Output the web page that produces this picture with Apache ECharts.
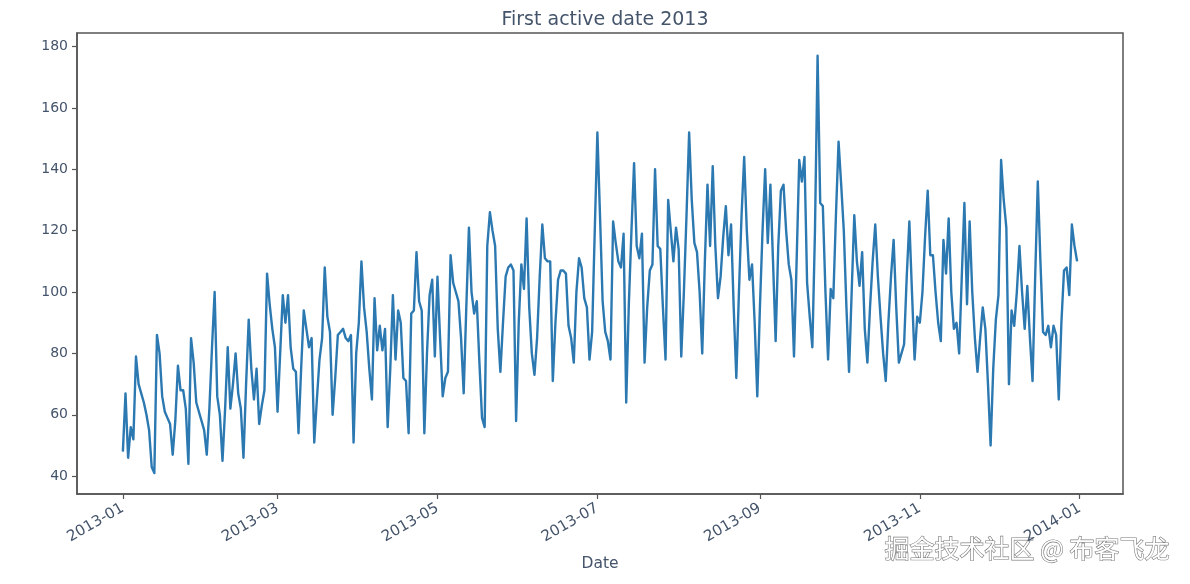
<!DOCTYPE html>
<html>
<head>
<meta charset="utf-8">
<script src="https://cdn.jsdelivr.net/npm/echarts@6/dist/echarts.min.js"></script>
<style>
html,body{margin:0;padding:0;background:#fff;}
#chart{width:1190px;height:584px;}
</style>
</head>
<body>
<div id="chart"></div>
<script>
// ---- data (daily values, 2013) ----
const startDate = '2013-01-01';
const jan = [48,67,46,56,52,79,70,67,64,60,55,43,41,86,80,66,61,59,57,47,58,76,68,68,62,44,85,77,64,61,58];
const feb = [55,47,62,82,100,66,60,45,62,82,62,70,80,67,62,46,70,91,75,65,75,57,63,68,106,96,88,82];
const mar = [61,80,99,90,99,82,75,74,54,75,94,88,82,85,51,65,78,85,108,92,87,60,72,86,87,88,85,84,86,51,80];
const apr = [90,110,95,87,75,65,98,81,89,81,88,56,75,99,78,94,90,72,71,54,93,94,113,97,94,54,80,99,104,79];
const may = [105,85,66,72,74,112,103,100,97,85,67,95,121,100,93,97,77,59,56,115,126,120,115,88,74,90,105,108,109,107,58];
const jun = [90,109,101,124,95,80,73,85,105,122,111,110,110,71,90,104,107,107,106,89,85,77,100,111,108,98,95,78,87,120];
const jul = [152,125,97,87,84,78,123,116,110,108,119,64,96,120,142,115,111,119,77,95,107,109,140,115,114,95,78,130,120,110,121];
const aug = [114,79,100,125,152,130,116,113,100,80,110,135,115,141,115,98,105,118,128,112,122,95,72,100,125,144,120,104,109,90,66];
const sep = [95,120,140,116,135,110,84,115,133,135,120,109,104,79,110,143,136,144,103,92,82,120,177,129,128,100,78,101,98,125];
const oct = [149,135,120,95,74,100,125,110,102,113,88,77,95,110,122,105,92,80,71,90,105,117,95,77,80,83,105,123,100,78,92];
const nov = [90,100,118,133,112,112,100,90,84,117,106,124,100,88,90,80,105,129,96,123,100,85,74,85,95,88,70,50,75,91];
const dec = [99,143,130,121,70,94,89,100,115,100,88,102,85,71,105,136,110,87,86,89,82,89,86,65,90,107,108,99,122,115,110];
const values = [].concat(jan,feb,mar,apr,may,jun,jul,aug,sep,oct,nov,dec);

const xTickLabels = ['2013-01','2013-03','2013-05','2013-07','2013-09','2013-11','2014-01'];
const yTickValues = [40,60,80,100,120,140,160,180];

// ---- derived ----
const DAY = 86400000;
const p0 = startDate.split('-');
const t0 = Date.UTC(+p0[0], +p0[1]-1, +p0[2]);
const dates = values.map((v,i)=> t0 + i*DAY);
const xTicks = xTickLabels.map(s => { const p = s.split('-'); return Date.UTC(+p[0], +p[1]-1, 1); });
const dataPairs = dates.map((d,i)=>[d, values[i]]);

const textColor = '#44546a';
const chart = echarts.init(document.getElementById('chart'), null, {renderer:'canvas'});
chart.setOption({
  animation:false,
  backgroundColor:'#fff',
  title:{
    text:'First active date 2013',
    left:600, top:6, textAlign:'center',
    textStyle:{fontFamily:'DejaVu Sans', fontSize:19, fontWeight:'normal', color:textColor}
  },
  grid:{left:77, right:67, top:33, bottom:90, show:true, borderColor:'#555', borderWidth:1.5, backgroundColor:'transparent'},
  xAxis:{
    type:'value',
    min: dates[0] - 17.5*DAY,
    max: dates[dates.length-1] + 17.5*DAY,
    name:'Date', nameLocation:'middle', nameGap:62,
    nameTextStyle:{fontFamily:'DejaVu Sans', fontSize:15.5, color:textColor},
    axisLine:{show:true, lineStyle:{color:'#555', width:1.5}},
    axisTick:{show:true, length:5, customValues:xTicks, lineStyle:{color:'#555', width:1.2}},
    axisLabel:{
      customValues:xTicks, rotate:30, margin:13,
      fontFamily:'DejaVu Sans', fontSize:15, color:textColor,
      formatter:(v)=>{ const i = xTicks.indexOf(v); return i>=0 ? xTickLabels[i] : ''; }
    },
    splitLine:{show:false}
  },
  yAxis:{
    type:'value', min:34.2, max:184.4,
    axisLine:{show:true, lineStyle:{color:'#555', width:1.5}},
    axisTick:{show:true, length:5, customValues:yTickValues, lineStyle:{color:'#555', width:1.2}},
    axisLabel:{customValues:yTickValues, margin:9, fontFamily:'DejaVu Sans', fontSize:14, color:textColor},
    splitLine:{show:false}
  },
  series:[{
    type:'line', data:dataPairs, showSymbol:false, symbol:'none',
    lineStyle:{color:'#2c79b2', width:2.4, join:'round'},
    itemStyle:{color:'#2c79b2'}
  }],
  graphic:[{
    type:'text', right:20, top:535,
    style:{
      text:'掘金技术社区 @ 布客飞龙',
      font:'25px "Noto Sans CJK SC"',
      fill:'#ffffff', stroke:'#777', lineWidth:1.2
    }
  }]
});
</script>
</body>
</html>
